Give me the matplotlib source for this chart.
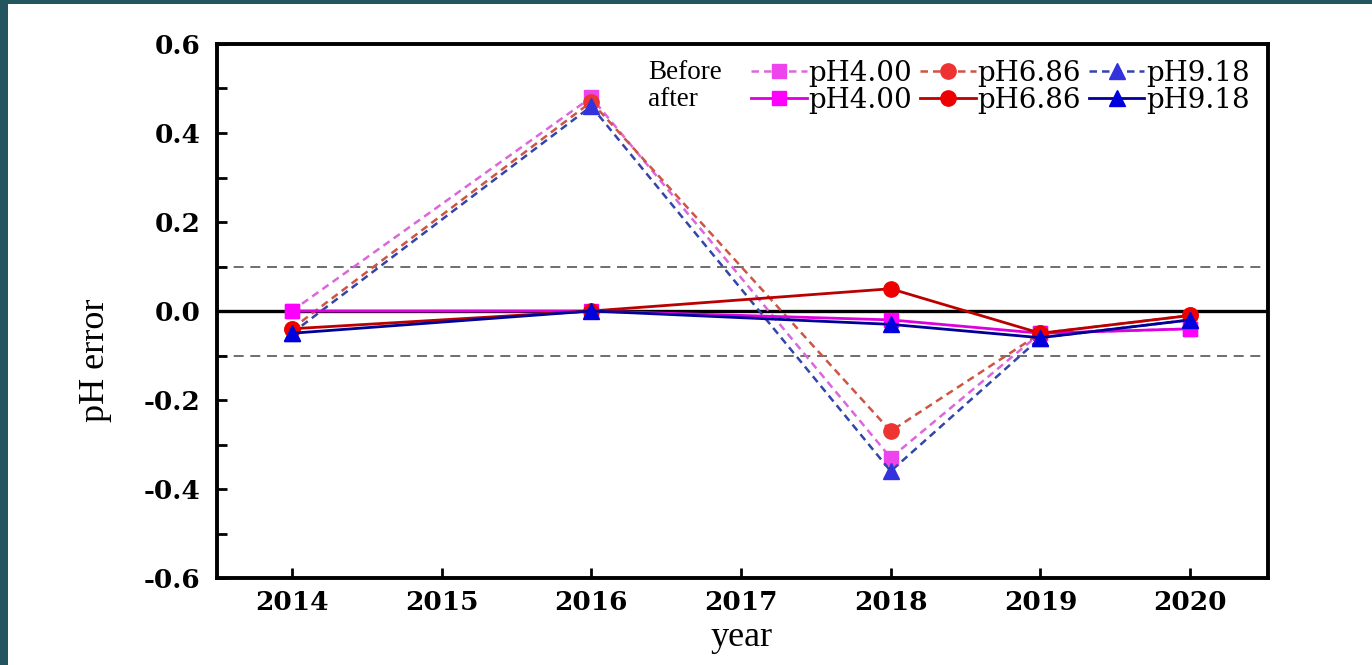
import matplotlib
matplotlib.use("Agg")
import matplotlib.pyplot as plt
from matplotlib.patches import Rectangle
from matplotlib.ticker import MultipleLocator

# Sampling years and pH error of the three buffer standards
years = [2014, 2016, 2018, 2019, 2020]
xtick_years = [2014, 2015, 2016, 2017, 2018, 2019, 2020]

before_ph400 = [0.00, 0.48, -0.33, -0.05, -0.04]
before_ph686 = [-0.04, 0.47, -0.27, -0.05, -0.01]
before_ph918 = [-0.05, 0.46, -0.36, -0.06, -0.02]

after_ph400 = [0.00, 0.00, -0.02, -0.05, -0.04]
after_ph686 = [-0.04, 0.00, 0.05, -0.05, -0.01]
after_ph918 = [-0.05, 0.00, -0.03, -0.06, -0.02]

labels = ["pH4.00", "pH6.86", "pH9.18"]
ytick_vals = [-0.6, -0.4, -0.2, 0.0, 0.2, 0.4, 0.6]
ytick_labels = ["-0.6", "-0.4", "-0.2", "0.0", "0.2", "0.4", "0.6"]

fig = plt.figure(figsize=(13.72, 6.65), dpi=100)
fig.patch.set_facecolor("white")

# dark frame strips along the top and left edges
fig.patches.append(Rectangle((0, 0), 8 / 1372, 1, transform=fig.transFigure,
                             facecolor="#22555d", edgecolor="none", zorder=0))
fig.patches.append(Rectangle((0, 1 - 4 / 665), 1, 4 / 665, transform=fig.transFigure,
                             facecolor="#22555d", edgecolor="none", zorder=0))

ax = fig.add_axes([217 / 1372, 87 / 665, 1051 / 1372, 534 / 665])

# reference lines
ax.axhline(0, color="black", lw=2.4, zorder=1)
for yv in (0.1, -0.1):
    ax.axhline(yv, color="#555555", lw=1.2, dashes=(6, 4), zorder=1)

dash = (3, 2)
b4, = ax.plot(years, before_ph400, color="#dd66dd", lw=1.8, dashes=dash,
              marker="s", ms=10, mfc="#ee44ee", mec="#ee44ee", zorder=3)
b6, = ax.plot(years, before_ph686, color="#cc5544", lw=1.8, dashes=dash,
              marker="o", ms=11, mfc="#ee3333", mec="#ee3333", zorder=3)
b9, = ax.plot(years, before_ph918, color="#3344aa", lw=1.8, dashes=dash,
              marker="^", ms=11, mfc="#3333dd", mec="#3333dd", zorder=3)

a4, = ax.plot(years, after_ph400, color="#dd00dd", lw=2.0,
              marker="s", ms=10, mfc="#ff00ff", mec="#ff00ff", zorder=4)
a6, = ax.plot(years, after_ph686, color="#bb0000", lw=2.0,
              marker="o", ms=11, mfc="#ee0000", mec="#ee0000", zorder=4)
a9, = ax.plot(years, after_ph918, color="#000099", lw=2.0,
              marker="^", ms=11, mfc="#0000dd", mec="#0000dd", zorder=4)

ax.set_xlim(2013.5, 2020.52)
ax.set_ylim(-0.6, 0.6)
ax.set_xticks(xtick_years)
ax.set_xticklabels([str(y) for y in xtick_years])
ax.set_yticks(ytick_vals)
ax.set_yticklabels(ytick_labels)
ax.yaxis.set_minor_locator(MultipleLocator(0.1))

for s in ax.spines.values():
    s.set_linewidth(2.8)
ax.tick_params(axis="both", which="major", direction="in", length=7, width=2,
               labelsize=19, pad=11)
ax.tick_params(axis="x", which="major", pad=9)
ax.tick_params(axis="y", which="major", pad=12)
ax.tick_params(axis="y", which="minor", direction="in", length=7, width=2)
ax.tick_params(axis="x", which="minor", bottom=False)
for lab in ax.get_xticklabels() + ax.get_yticklabels():
    lab.set_fontfamily("DejaVu Serif")
    lab.set_fontweight("bold")

fig.text(96 / 1372, 1 - 360 / 665, "pH error", rotation=90, ha="center", va="center",
         fontsize=26, family="Liberation Serif")
fig.text(742 / 1372, 1 - 638 / 665, "year", ha="center", va="center",
         fontsize=26, family="Liberation Serif")

# legend: before row (dashed) on top, after row (solid) below
leg = ax.legend([b4, a4, b6, a6, b9, a9], labels[:1] * 2 + labels[1:2] * 2 + labels[2:] * 2,
                ncol=3, loc="upper left", bbox_to_anchor=(0.495, 0.996),
                frameon=False, handlelength=2.0, handletextpad=0.05,
                columnspacing=0.3, labelspacing=0.0, borderpad=0, numpoints=1,
                prop={"family": "DejaVu Serif", "size": 20})
ax.text(0.41, 0.946, "Before", transform=ax.transAxes, ha="left", va="center",
        fontsize=19.5, family="Liberation Serif")
ax.text(0.41, 0.897, "after", transform=ax.transAxes, ha="left", va="center",
        fontsize=19.5, family="Liberation Serif")

fig.savefig("out.png", dpi=100)
